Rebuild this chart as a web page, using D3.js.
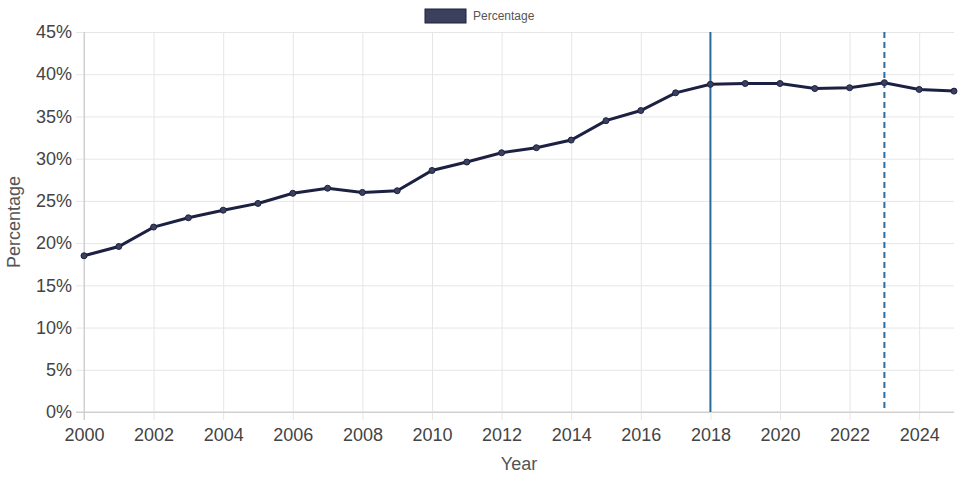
<!DOCTYPE html>
<meta charset="utf-8">
<html>
<head>
<style>
  body { margin: 0; background: #fff; }
  svg { font-family: "Liberation Sans", Arial, sans-serif; }
</style>
</head>
<body>
<svg id="chart" width="960" height="480"></svg>

<script src="https://cdn.jsdelivr.net/npm/d3@7"></script>
<script>
  // data
  var years = [2000, 2001, 2002, 2003, 2004, 2005, 2006, 2007, 2008, 2009,
               2010, 2011, 2012, 2013, 2014, 2015, 2016, 2017, 2018, 2019,
               2020, 2021, 2022, 2023, 2024, 2025];
  var percentage = [18.5, 19.6, 21.9, 23.0, 23.9, 24.7, 25.9, 26.5, 26.0, 26.2,
                    28.6, 29.6, 30.7, 31.3, 32.2, 34.5, 35.7, 37.8, 38.8, 38.9,
                    38.9, 38.3, 38.4, 39.0, 38.2, 38.0];
  var yTicks = [0, 5, 10, 15, 20, 25, 30, 35, 40, 45];
  var xTicks = [2000, 2002, 2004, 2006, 2008, 2010, 2012, 2014, 2016, 2018, 2020, 2022, 2024];
  var markers = [
    { year: 2018, dash: null },
    { year: 2023, dash: "6,4" }
  ];

  var svg = d3.select("#chart");
  // plot box (note: "top" is taken by window.top)
  var pLeft = 84, pRight = 954, pTop = 32, pBottom = 412;

  var x = d3.scaleLinear().domain([2000, 2025]).range([pLeft, pRight]);
  var y = d3.scaleLinear().domain([0, 45]).range([pBottom, pTop]);

  // horizontal grid + y labels
  var yAxis = d3.axisLeft(y)
    .tickValues(yTicks)
    .tickSize(0)
    .tickPadding(4)
    .tickFormat(function(d) { return d + "%"; });
  var gy = svg.append("g")
    .attr("transform", "translate(" + (pLeft - 8) + ",0)")
    .call(yAxis);
  gy.select(".domain").remove();
  gy.selectAll(".tick line")
    .attr("x1", 0).attr("x2", pRight - pLeft + 8)
    .attr("stroke", function(d) { return d == 0 ? "#d0d0d0" : "#e6e6e6"; });
  gy.selectAll(".tick text")
    .attr("fill", "#444")
    .style("font-size", "18px");

  // vertical grid + x labels
  var xAxis = d3.axisBottom(x)
    .tickValues(xTicks)
    .tickSize(0)
    .tickPadding(16)
    .tickFormat(d3.format("d"));
  var gx = svg.append("g")
    .attr("transform", "translate(0," + pBottom + ")")
    .call(xAxis);
  gx.select(".domain").remove();
  gx.selectAll(".tick line")
    .attr("y1", pTop - pBottom).attr("y2", 8)
    .attr("stroke", function(d) { return d == 2000 ? "#d0d0d0" : "#e6e6e6"; });
  gx.selectAll(".tick text")
    .attr("fill", "#444")
    .style("font-size", "18px");

  // axis lines
  svg.append("line")
    .attr("x1", pLeft).attr("x2", pLeft)
    .attr("y1", pTop).attr("y2", pBottom + 8)
    .attr("stroke", "#d0d0d0");
  svg.append("line")
    .attr("x1", pLeft - 8).attr("x2", pRight)
    .attr("y1", pBottom).attr("y2", pBottom)
    .attr("stroke", "#d0d0d0");

  // axis titles
  svg.append("text")
    .attr("x", (pLeft + pRight) / 2)
    .attr("y", 470)
    .attr("text-anchor", "middle")
    .attr("fill", "#555")
    .style("font-size", "18px")
    .text("Year");
  svg.append("text")
    .attr("transform", "translate(20," + ((pTop + pBottom) / 2) + ") rotate(-90)")
    .attr("text-anchor", "middle")
    .attr("fill", "#555")
    .style("font-size", "18px")
    .text("Percentage");

  // marker lines
  svg.selectAll(".marker")
    .data(markers)
    .enter().append("line")
      .attr("class", "marker")
      .attr("x1", function(d) { return x(d.year); })
      .attr("x2", function(d) { return x(d.year); })
      .attr("y1", pTop).attr("y2", pBottom)
      .attr("stroke", "#2b6c9f")
      .attr("stroke-width", 2)
      .attr("stroke-dasharray", function(d) { return d.dash; });

  // series line
  var pts = years.map(function(yr, i) { return [yr, percentage[i]]; });
  var line = d3.line()
    .x(function(d) { return x(d[0]); })
    .y(function(d) { return y(d[1]); });
  svg.append("path")
    .datum(pts)
    .attr("d", line)
    .attr("fill", "none")
    .attr("stroke", "#1c2142")
    .attr("stroke-width", 3);

  svg.selectAll(".pt")
    .data(pts)
    .enter().append("circle")
      .attr("class", "pt")
      .attr("cx", function(d) { return x(d[0]); })
      .attr("cy", function(d) { return y(d[1]); })
      .attr("r", 3)
      .attr("fill", "#3b405c")
      .attr("stroke", "#1c2142")
      .attr("stroke-width", 1);

  // legend
  var lg = svg.append("g").attr("transform", "translate(425,9)");
  lg.append("rect")
    .attr("width", 41).attr("height", 14)
    .attr("fill", "#3b405c")
    .attr("stroke", "#1c2142")
    .attr("stroke-width", 1);
  lg.append("text")
    .attr("x", 48).attr("y", 11)
    .attr("fill", "#555")
    .style("font-size", "12px")
    .text("Percentage");
</script>
</body>
</html>
